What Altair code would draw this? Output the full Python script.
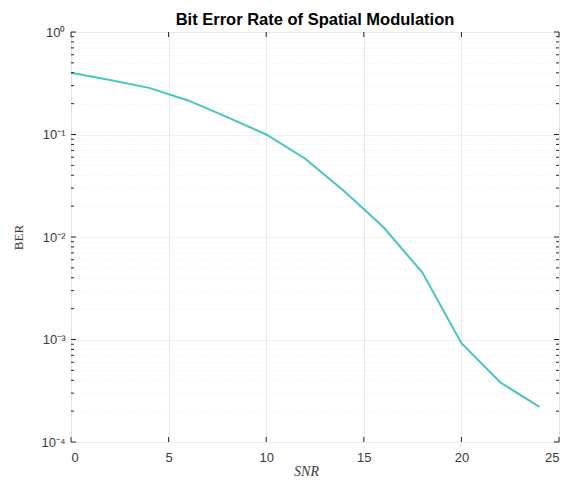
import altair as alt
import pandas as pd

snr = [0, 2, 4, 6, 8, 10, 12, 14, 16, 18, 20, 22, 24]
ber = [0.40, 0.34, 0.285, 0.215, 0.148, 0.100, 0.058, 0.028, 0.0125, 0.0045, 0.00092, 0.00038, 0.00022]

x_ticks = [0, 5, 10, 15, 20, 25]
decades = [1e-4, 1e-3, 1e-2, 1e-1, 1.0]
decade_labels = ["10⁻⁴", "10⁻³", "10⁻²", "10⁻¹", "10⁰"]
minor = [m * d for d in [1e-4, 1e-3, 1e-2, 1e-1] for m in range(2, 10)]

df = pd.DataFrame({"snr": snr, "ber": ber})

W, H = 488, 410
FONT = "Liberation Sans"
AX = "#262626"
LBL = "#3a3a3a"

label_expr = " : ".join(
    f"datum.value == {d!r} ? '{l}'" for d, l in zip(decades, decade_labels)
) + " : ''"

xs = alt.Scale(domain=[0, 25], nice=False)
ys = alt.Scale(type="log", domain=[1e-4, 1], nice=False)

yvals = sorted(decades + minor)

line = alt.Chart(df).mark_line(color="#48c6be", strokeWidth=2).encode(
    x=alt.X("snr:Q", scale=xs,
            axis=alt.Axis(values=x_ticks, title="SNR", titleFont="Liberation Serif",
                          titleFontStyle="italic", titleFontWeight="normal", titleFontSize=14,
                          titleColor=LBL, titlePadding=0, titleX=235,
                          labelFont=FONT, labelFontSize=13, labelColor=LBL, labelPadding=9,
                          ticks=False, domain=False, gridColor="#e3e3e3", gridWidth=0.8)),
    y=alt.Y("ber:Q", scale=ys,
            axis=alt.Axis(values=yvals, labelExpr=label_expr, title="BER",
                          titleFont="Liberation Serif", titleFontWeight="normal",
                          titleFontSize=13, titleColor=LBL, titlePadding=15,
                          labelFont=FONT, labelFontSize=13, labelColor=LBL, labelPadding=6,
                          ticks=False, domain=False, labelOverlap=False,
                          gridColor="#ececec", gridWidth=0.8,
                          gridDash={"condition": {"test": "indexof([1e-4,1e-3,1e-2,1e-1,1], datum.value) >= 0", "value": []}, "value": [1, 2]})),
)

xt = pd.DataFrame({"snr": x_ticks})
ytM = pd.DataFrame({"ber": decades})
ytm = pd.DataFrame({"ber": minor})

tick_style = dict(color=AX, strokeWidth=1)
xb = alt.Chart(xt).mark_rule(**tick_style).encode(x=alt.X("snr:Q", scale=xs), y=alt.value(H), y2=alt.value(H - 5))
xtp = alt.Chart(xt).mark_rule(**tick_style).encode(x=alt.X("snr:Q", scale=xs), y=alt.value(0), y2=alt.value(5))
ylM = alt.Chart(ytM).mark_rule(**tick_style).encode(y=alt.Y("ber:Q", scale=ys), x=alt.value(0), x2=alt.value(5))
yrM = alt.Chart(ytM).mark_rule(**tick_style).encode(y=alt.Y("ber:Q", scale=ys), x=alt.value(W), x2=alt.value(W - 5))
ylm = alt.Chart(ytm).mark_rule(**tick_style).encode(y=alt.Y("ber:Q", scale=ys), x=alt.value(0), x2=alt.value(3))
yrm = alt.Chart(ytm).mark_rule(**tick_style).encode(y=alt.Y("ber:Q", scale=ys), x=alt.value(W), x2=alt.value(W - 3))

chart = alt.layer(line, xb, xtp, ylM, yrM, ylm, yrm).properties(
    width=W, height=H,
    title=alt.TitleParams("Bit Error Rate of Spatial Modulation", font=FONT, fontSize=16.5,
                          fontWeight="bold", color="#000000", offset=-2, anchor="middle"),
    autosize=alt.AutoSizeParams(type="none"),
    padding={"left": 63, "top": 24, "right": 3, "bottom": 36},
).configure_view(stroke=AX, strokeWidth=1).configure(background="white")

chart.save("out.html", embed_options={"renderer": "svg", "actions": False})
